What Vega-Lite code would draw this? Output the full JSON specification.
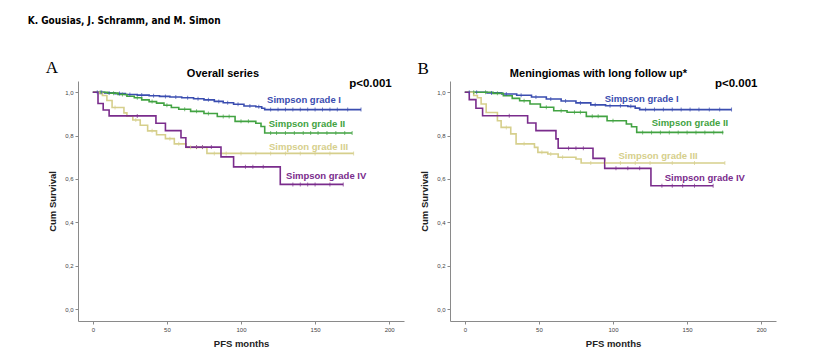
{
  "$schema": "https://vega.github.io/schema/vega-lite/v6.json",
  "background": "white",
  "padding": {"left": 27, "top": 15, "right": 10, "bottom": 5},
  "title": {"text": "K. Gousias, J. Schramm, and M. Simon", "anchor": "start", "font": "DejaVu Sans Condensed, Liberation Sans Narrow, Liberation Sans", "fontSize": 10, "fontWeight": "bold", "color": "#000", "dx": -18, "offset": 33},
  "datasets": {
    "curves": [
      {"p":"A","g":"Simpson grade I","t":0,"s":1},{"p":"A","g":"Simpson grade I","t":8,"s":0.997},{"p":"A","g":"Simpson grade I","t":15,"s":0.994},{"p":"A","g":"Simpson grade I","t":22,"s":0.99},{"p":"A","g":"Simpson grade I","t":30,"s":0.987},{"p":"A","g":"Simpson grade I","t":38,"s":0.984},{"p":"A","g":"Simpson grade I","t":45,"s":0.981},{"p":"A","g":"Simpson grade I","t":52,"s":0.978},{"p":"A","g":"Simpson grade I","t":60,"s":0.975},{"p":"A","g":"Simpson grade I","t":68,"s":0.97},{"p":"A","g":"Simpson grade I","t":75,"s":0.965},{"p":"A","g":"Simpson grade I","t":82,"s":0.958},{"p":"A","g":"Simpson grade I","t":88,"s":0.952},{"p":"A","g":"Simpson grade I","t":95,"s":0.945},{"p":"A","g":"Simpson grade I","t":102,"s":0.937},{"p":"A","g":"Simpson grade I","t":110,"s":0.933},{"p":"A","g":"Simpson grade I","t":114,"s":0.926},{"p":"A","g":"Simpson grade I","t":116,"s":0.92},{"p":"A","g":"Simpson grade I","t":181,"s":0.92},
      {"p":"A","g":"Simpson grade II","t":0,"s":1},{"p":"A","g":"Simpson grade II","t":10,"s":0.996},{"p":"A","g":"Simpson grade II","t":17,"s":0.99},{"p":"A","g":"Simpson grade II","t":23,"s":0.982},{"p":"A","g":"Simpson grade II","t":28,"s":0.975},{"p":"A","g":"Simpson grade II","t":33,"s":0.965},{"p":"A","g":"Simpson grade II","t":38,"s":0.957},{"p":"A","g":"Simpson grade II","t":43,"s":0.95},{"p":"A","g":"Simpson grade II","t":48,"s":0.94},{"p":"A","g":"Simpson grade II","t":53,"s":0.93},{"p":"A","g":"Simpson grade II","t":58,"s":0.922},{"p":"A","g":"Simpson grade II","t":66,"s":0.912},{"p":"A","g":"Simpson grade II","t":75,"s":0.902},{"p":"A","g":"Simpson grade II","t":84,"s":0.888},{"p":"A","g":"Simpson grade II","t":96,"s":0.866},{"p":"A","g":"Simpson grade II","t":110,"s":0.857},{"p":"A","g":"Simpson grade II","t":113.5,"s":0.842},{"p":"A","g":"Simpson grade II","t":116,"s":0.812},{"p":"A","g":"Simpson grade II","t":175,"s":0.812},
      {"p":"A","g":"Simpson grade III","t":0,"s":1},{"p":"A","g":"Simpson grade III","t":4.5,"s":0.995},{"p":"A","g":"Simpson grade III","t":6.5,"s":0.985},{"p":"A","g":"Simpson grade III","t":9.5,"s":0.962},{"p":"A","g":"Simpson grade III","t":13,"s":0.93},{"p":"A","g":"Simpson grade III","t":21,"s":0.905},{"p":"A","g":"Simpson grade III","t":23,"s":0.89},{"p":"A","g":"Simpson grade III","t":27,"s":0.872},{"p":"A","g":"Simpson grade III","t":32,"s":0.848},{"p":"A","g":"Simpson grade III","t":37,"s":0.822},{"p":"A","g":"Simpson grade III","t":43,"s":0.804},{"p":"A","g":"Simpson grade III","t":49,"s":0.786},{"p":"A","g":"Simpson grade III","t":55,"s":0.762},{"p":"A","g":"Simpson grade III","t":63,"s":0.746},{"p":"A","g":"Simpson grade III","t":77,"s":0.718},{"p":"A","g":"Simpson grade III","t":176,"s":0.718},
      {"p":"A","g":"Simpson grade IV","t":0,"s":1},{"p":"A","g":"Simpson grade IV","t":3.5,"s":0.948},{"p":"A","g":"Simpson grade IV","t":7,"s":0.918},{"p":"A","g":"Simpson grade IV","t":11,"s":0.891},{"p":"A","g":"Simpson grade IV","t":42.6,"s":0.857},{"p":"A","g":"Simpson grade IV","t":49,"s":0.823},{"p":"A","g":"Simpson grade IV","t":59.5,"s":0.79},{"p":"A","g":"Simpson grade IV","t":62.8,"s":0.747},{"p":"A","g":"Simpson grade IV","t":86.5,"s":0.702},{"p":"A","g":"Simpson grade IV","t":95,"s":0.656},{"p":"A","g":"Simpson grade IV","t":126.5,"s":0.575},{"p":"A","g":"Simpson grade IV","t":169,"s":0.575},
      {"p":"B","g":"Simpson grade I","t":0,"s":1},{"p":"B","g":"Simpson grade I","t":15,"s":0.997},{"p":"B","g":"Simpson grade I","t":25,"s":0.992},{"p":"B","g":"Simpson grade I","t":35,"s":0.986},{"p":"B","g":"Simpson grade I","t":45,"s":0.978},{"p":"B","g":"Simpson grade I","t":55,"s":0.969},{"p":"B","g":"Simpson grade I","t":65,"s":0.96},{"p":"B","g":"Simpson grade I","t":75,"s":0.951},{"p":"B","g":"Simpson grade I","t":85,"s":0.942},{"p":"B","g":"Simpson grade I","t":95,"s":0.938},{"p":"B","g":"Simpson grade I","t":110,"s":0.935},{"p":"B","g":"Simpson grade I","t":115,"s":0.927},{"p":"B","g":"Simpson grade I","t":118,"s":0.92},{"p":"B","g":"Simpson grade I","t":180,"s":0.92},
      {"p":"B","g":"Simpson grade II","t":0,"s":1},{"p":"B","g":"Simpson grade II","t":19,"s":0.995},{"p":"B","g":"Simpson grade II","t":26,"s":0.984},{"p":"B","g":"Simpson grade II","t":32,"s":0.972},{"p":"B","g":"Simpson grade II","t":37,"s":0.961},{"p":"B","g":"Simpson grade II","t":44,"s":0.946},{"p":"B","g":"Simpson grade II","t":51,"s":0.931},{"p":"B","g":"Simpson grade II","t":60,"s":0.915},{"p":"B","g":"Simpson grade II","t":69,"s":0.908},{"p":"B","g":"Simpson grade II","t":82,"s":0.889},{"p":"B","g":"Simpson grade II","t":96,"s":0.869},{"p":"B","g":"Simpson grade II","t":109,"s":0.854},{"p":"B","g":"Simpson grade II","t":112.5,"s":0.841},{"p":"B","g":"Simpson grade II","t":116,"s":0.815},{"p":"B","g":"Simpson grade II","t":174.5,"s":0.815},
      {"p":"B","g":"Simpson grade III","t":0,"s":1},{"p":"B","g":"Simpson grade III","t":6,"s":0.985},{"p":"B","g":"Simpson grade III","t":8.5,"s":0.975},{"p":"B","g":"Simpson grade III","t":11,"s":0.946},{"p":"B","g":"Simpson grade III","t":14.4,"s":0.907},{"p":"B","g":"Simpson grade III","t":22,"s":0.869},{"p":"B","g":"Simpson grade III","t":24.5,"s":0.838},{"p":"B","g":"Simpson grade III","t":31,"s":0.808},{"p":"B","g":"Simpson grade III","t":34.6,"s":0.762},{"p":"B","g":"Simpson grade III","t":47,"s":0.746},{"p":"B","g":"Simpson grade III","t":49.3,"s":0.723},{"p":"B","g":"Simpson grade III","t":56,"s":0.715},{"p":"B","g":"Simpson grade III","t":63,"s":0.7},{"p":"B","g":"Simpson grade III","t":75,"s":0.692},{"p":"B","g":"Simpson grade III","t":78.5,"s":0.674},{"p":"B","g":"Simpson grade III","t":175.5,"s":0.674},
      {"p":"B","g":"Simpson grade IV","t":0,"s":1},{"p":"B","g":"Simpson grade IV","t":3,"s":0.966},{"p":"B","g":"Simpson grade IV","t":7.5,"s":0.926},{"p":"B","g":"Simpson grade IV","t":12,"s":0.892},{"p":"B","g":"Simpson grade IV","t":42.4,"s":0.858},{"p":"B","g":"Simpson grade IV","t":48,"s":0.823},{"p":"B","g":"Simpson grade IV","t":61.5,"s":0.785},{"p":"B","g":"Simpson grade IV","t":63,"s":0.742},{"p":"B","g":"Simpson grade IV","t":86.5,"s":0.695},{"p":"B","g":"Simpson grade IV","t":94.4,"s":0.649},{"p":"B","g":"Simpson grade IV","t":125.6,"s":0.569},{"p":"B","g":"Simpson grade IV","t":167.6,"s":0.569}
    ],
    "censors": [
      {"p":"A","g":"Simpson grade I","t":3,"s":1},{"p":"A","g":"Simpson grade I","t":6,"s":1},{"p":"A","g":"Simpson grade I","t":11,"s":0.997},{"p":"A","g":"Simpson grade I","t":18,"s":0.994},{"p":"A","g":"Simpson grade I","t":25,"s":0.99},{"p":"A","g":"Simpson grade I","t":33,"s":0.987},{"p":"A","g":"Simpson grade I","t":41,"s":0.984},{"p":"A","g":"Simpson grade I","t":49,"s":0.981},{"p":"A","g":"Simpson grade I","t":56,"s":0.978},{"p":"A","g":"Simpson grade I","t":64,"s":0.975},{"p":"A","g":"Simpson grade I","t":71,"s":0.97},{"p":"A","g":"Simpson grade I","t":78,"s":0.965},{"p":"A","g":"Simpson grade I","t":85,"s":0.958},{"p":"A","g":"Simpson grade I","t":91,"s":0.952},{"p":"A","g":"Simpson grade I","t":98,"s":0.945},{"p":"A","g":"Simpson grade I","t":106,"s":0.937},{"p":"A","g":"Simpson grade I","t":112,"s":0.933},{"p":"A","g":"Simpson grade I","t":120,"s":0.92},{"p":"A","g":"Simpson grade I","t":125,"s":0.92},{"p":"A","g":"Simpson grade I","t":130,"s":0.92},{"p":"A","g":"Simpson grade I","t":135,"s":0.92},{"p":"A","g":"Simpson grade I","t":140,"s":0.92},{"p":"A","g":"Simpson grade I","t":145,"s":0.92},{"p":"A","g":"Simpson grade I","t":150,"s":0.92},{"p":"A","g":"Simpson grade I","t":155,"s":0.92},{"p":"A","g":"Simpson grade I","t":160,"s":0.92},{"p":"A","g":"Simpson grade I","t":165,"s":0.92},{"p":"A","g":"Simpson grade I","t":172,"s":0.92},{"p":"A","g":"Simpson grade I","t":181,"s":0.92},
      {"p":"A","g":"Simpson grade II","t":5,"s":1},{"p":"A","g":"Simpson grade II","t":14,"s":0.996},{"p":"A","g":"Simpson grade II","t":20,"s":0.99},{"p":"A","g":"Simpson grade II","t":30,"s":0.975},{"p":"A","g":"Simpson grade II","t":40,"s":0.957},{"p":"A","g":"Simpson grade II","t":50,"s":0.94},{"p":"A","g":"Simpson grade II","t":62,"s":0.922},{"p":"A","g":"Simpson grade II","t":70,"s":0.912},{"p":"A","g":"Simpson grade II","t":78,"s":0.902},{"p":"A","g":"Simpson grade II","t":88,"s":0.888},{"p":"A","g":"Simpson grade II","t":92,"s":0.888},{"p":"A","g":"Simpson grade II","t":100,"s":0.866},{"p":"A","g":"Simpson grade II","t":105,"s":0.866},{"p":"A","g":"Simpson grade II","t":120,"s":0.812},{"p":"A","g":"Simpson grade II","t":124,"s":0.812},{"p":"A","g":"Simpson grade II","t":130,"s":0.812},{"p":"A","g":"Simpson grade II","t":136,"s":0.812},{"p":"A","g":"Simpson grade II","t":142,"s":0.812},{"p":"A","g":"Simpson grade II","t":147,"s":0.812},{"p":"A","g":"Simpson grade II","t":152,"s":0.812},{"p":"A","g":"Simpson grade II","t":158,"s":0.812},{"p":"A","g":"Simpson grade II","t":164,"s":0.812},{"p":"A","g":"Simpson grade II","t":170,"s":0.812},{"p":"A","g":"Simpson grade II","t":175,"s":0.812},
      {"p":"A","g":"Simpson grade III","t":15,"s":0.93},{"p":"A","g":"Simpson grade III","t":29,"s":0.872},{"p":"A","g":"Simpson grade III","t":40,"s":0.822},{"p":"A","g":"Simpson grade III","t":52,"s":0.786},{"p":"A","g":"Simpson grade III","t":58,"s":0.762},{"p":"A","g":"Simpson grade III","t":66,"s":0.746},{"p":"A","g":"Simpson grade III","t":70,"s":0.746},{"p":"A","g":"Simpson grade III","t":74,"s":0.746},{"p":"A","g":"Simpson grade III","t":82,"s":0.718},{"p":"A","g":"Simpson grade III","t":90,"s":0.718},{"p":"A","g":"Simpson grade III","t":100,"s":0.718},{"p":"A","g":"Simpson grade III","t":110,"s":0.718},{"p":"A","g":"Simpson grade III","t":120,"s":0.718},{"p":"A","g":"Simpson grade III","t":130,"s":0.718},{"p":"A","g":"Simpson grade III","t":140,"s":0.718},{"p":"A","g":"Simpson grade III","t":150,"s":0.718},{"p":"A","g":"Simpson grade III","t":160,"s":0.718},{"p":"A","g":"Simpson grade III","t":176,"s":0.718},
      {"p":"A","g":"Simpson grade IV","t":30,"s":0.891},{"p":"A","g":"Simpson grade IV","t":70,"s":0.747},{"p":"A","g":"Simpson grade IV","t":74,"s":0.747},{"p":"A","g":"Simpson grade IV","t":80,"s":0.747},{"p":"A","g":"Simpson grade IV","t":103,"s":0.656},{"p":"A","g":"Simpson grade IV","t":108,"s":0.656},{"p":"A","g":"Simpson grade IV","t":115,"s":0.656},{"p":"A","g":"Simpson grade IV","t":135,"s":0.575},{"p":"A","g":"Simpson grade IV","t":140,"s":0.575},{"p":"A","g":"Simpson grade IV","t":145,"s":0.575},{"p":"A","g":"Simpson grade IV","t":150,"s":0.575},{"p":"A","g":"Simpson grade IV","t":160,"s":0.575},{"p":"A","g":"Simpson grade IV","t":169,"s":0.575},
      {"p":"B","g":"Simpson grade I","t":3,"s":1},{"p":"B","g":"Simpson grade I","t":8,"s":1},{"p":"B","g":"Simpson grade I","t":18,"s":0.997},{"p":"B","g":"Simpson grade I","t":28,"s":0.992},{"p":"B","g":"Simpson grade I","t":38,"s":0.986},{"p":"B","g":"Simpson grade I","t":48,"s":0.978},{"p":"B","g":"Simpson grade I","t":58,"s":0.969},{"p":"B","g":"Simpson grade I","t":68,"s":0.96},{"p":"B","g":"Simpson grade I","t":78,"s":0.951},{"p":"B","g":"Simpson grade I","t":88,"s":0.942},{"p":"B","g":"Simpson grade I","t":98,"s":0.938},{"p":"B","g":"Simpson grade I","t":105,"s":0.938},{"p":"B","g":"Simpson grade I","t":112,"s":0.935},{"p":"B","g":"Simpson grade I","t":122,"s":0.92},{"p":"B","g":"Simpson grade I","t":128,"s":0.92},{"p":"B","g":"Simpson grade I","t":134,"s":0.92},{"p":"B","g":"Simpson grade I","t":140,"s":0.92},{"p":"B","g":"Simpson grade I","t":146,"s":0.92},{"p":"B","g":"Simpson grade I","t":152,"s":0.92},{"p":"B","g":"Simpson grade I","t":158,"s":0.92},{"p":"B","g":"Simpson grade I","t":165,"s":0.92},{"p":"B","g":"Simpson grade I","t":172,"s":0.92},{"p":"B","g":"Simpson grade I","t":180,"s":0.92},
      {"p":"B","g":"Simpson grade II","t":6,"s":1},{"p":"B","g":"Simpson grade II","t":14,"s":1},{"p":"B","g":"Simpson grade II","t":22,"s":0.995},{"p":"B","g":"Simpson grade II","t":40,"s":0.961},{"p":"B","g":"Simpson grade II","t":55,"s":0.931},{"p":"B","g":"Simpson grade II","t":65,"s":0.915},{"p":"B","g":"Simpson grade II","t":74,"s":0.908},{"p":"B","g":"Simpson grade II","t":78,"s":0.908},{"p":"B","g":"Simpson grade II","t":86,"s":0.889},{"p":"B","g":"Simpson grade II","t":90,"s":0.889},{"p":"B","g":"Simpson grade II","t":100,"s":0.869},{"p":"B","g":"Simpson grade II","t":120,"s":0.815},{"p":"B","g":"Simpson grade II","t":126,"s":0.815},{"p":"B","g":"Simpson grade II","t":132,"s":0.815},{"p":"B","g":"Simpson grade II","t":138,"s":0.815},{"p":"B","g":"Simpson grade II","t":144,"s":0.815},{"p":"B","g":"Simpson grade II","t":150,"s":0.815},{"p":"B","g":"Simpson grade II","t":156,"s":0.815},{"p":"B","g":"Simpson grade II","t":162,"s":0.815},{"p":"B","g":"Simpson grade II","t":168,"s":0.815},{"p":"B","g":"Simpson grade II","t":174,"s":0.815},
      {"p":"B","g":"Simpson grade III","t":28,"s":0.838},{"p":"B","g":"Simpson grade III","t":40,"s":0.762},{"p":"B","g":"Simpson grade III","t":52,"s":0.723},{"p":"B","g":"Simpson grade III","t":58,"s":0.715},{"p":"B","g":"Simpson grade III","t":66,"s":0.7},{"p":"B","g":"Simpson grade III","t":85,"s":0.674},{"p":"B","g":"Simpson grade III","t":95,"s":0.674},{"p":"B","g":"Simpson grade III","t":105,"s":0.674},{"p":"B","g":"Simpson grade III","t":115,"s":0.674},{"p":"B","g":"Simpson grade III","t":125,"s":0.674},{"p":"B","g":"Simpson grade III","t":140,"s":0.674},{"p":"B","g":"Simpson grade III","t":155,"s":0.674},{"p":"B","g":"Simpson grade III","t":175.5,"s":0.674},
      {"p":"B","g":"Simpson grade IV","t":30,"s":0.892},{"p":"B","g":"Simpson grade IV","t":70,"s":0.742},{"p":"B","g":"Simpson grade IV","t":75,"s":0.742},{"p":"B","g":"Simpson grade IV","t":80,"s":0.742},{"p":"B","g":"Simpson grade IV","t":102,"s":0.649},{"p":"B","g":"Simpson grade IV","t":110,"s":0.649},{"p":"B","g":"Simpson grade IV","t":118,"s":0.649},{"p":"B","g":"Simpson grade IV","t":133,"s":0.569},{"p":"B","g":"Simpson grade IV","t":140,"s":0.569},{"p":"B","g":"Simpson grade IV","t":147,"s":0.569},{"p":"B","g":"Simpson grade IV","t":155,"s":0.569},{"p":"B","g":"Simpson grade IV","t":167.6,"s":0.569}
    ],
    "labels": [
      {"p":"A","k":"g","g":"Simpson grade I","label":"Simpson grade I","t":117.6,"s":0.966},
      {"p":"A","k":"g","g":"Simpson grade II","label":"Simpson grade II","t":118.7,"s":0.854},
      {"p":"A","k":"g","g":"Simpson grade III","label":"Simpson grade III","t":118.9,"s":0.748},
      {"p":"A","k":"g","g":"Simpson grade IV","label":"Simpson grade IV","t":130.4,"s":0.612},
      {"p":"A","k":"title","label":"Overall series","t":87.8,"s":1.084},
      {"p":"A","k":"pv","label":"p<0.001","t":173,"s":1.038},
      {"p":"A","k":"letter","label":"A","t":-31.8,"s":1.112},
      {"p":"B","k":"g","g":"Simpson grade I","label":"Simpson grade I","t":94.4,"s":0.969},
      {"p":"B","k":"g","g":"Simpson grade II","label":"Simpson grade II","t":126.1,"s":0.858},
      {"p":"B","k":"g","g":"Simpson grade III","label":"Simpson grade III","t":103.7,"s":0.707},
      {"p":"B","k":"g","g":"Simpson grade IV","label":"Simpson grade IV","t":134.9,"s":0.605},
      {"p":"B","k":"title","label":"Meningiomas with long follow up*","t":90.2,"s":1.084},
      {"p":"B","k":"pv","label":"p<0.001","t":168.8,"s":1.038},
      {"p":"B","k":"letter","label":"B","t":-31.9,"s":1.107}
    ]
  },
  "hconcat": [
    {
      "width": 326, "height": 240,
      "layer": [
        {"data": {"name": "curves"}, "transform": [{"filter": "datum.p == 'A'"}],
         "mark": {"type": "line", "interpolate": "step-after", "strokeWidth": 1.6},
         "encoding": {
           "x": {"field": "t", "type": "quantitative", "scale": {"domain": [-10, 210], "nice": false, "zero": false}, "axis": {"title": "PFS months", "values": [0, 50, 100, 150, 200]}},
           "y": {"field": "s", "type": "quantitative", "scale": {"domain": [-0.055, 1.052], "nice": false, "zero": false}, "axis": {"title": "Cum Survival", "values": [0, 0.2, 0.4, 0.6, 0.8, 1], "labelExpr": "replace(format(datum.value, '.1f'), '.', ',')"}},
           "color": {"field": "g", "type": "nominal", "scale": {"domain": ["Simpson grade I", "Simpson grade II", "Simpson grade III", "Simpson grade IV"], "range": ["#3a4db0", "#42a342", "#d6cf8c", "#7a2c8c"]}, "legend": null}
         }},
        {"data": {"name": "censors"}, "transform": [{"filter": "datum.p == 'A'"}],
         "mark": {"type": "tick", "orient": "vertical", "size": 4, "thickness": 1},
         "encoding": {"x": {"field": "t", "type": "quantitative"}, "y": {"field": "s", "type": "quantitative"}, "color": {"field": "g", "type": "nominal", "legend": null}}},
        {"data": {"name": "labels"}, "transform": [{"filter": "datum.p == 'A' && datum.k == 'g'"}],
         "mark": {"type": "text", "align": "left", "baseline": "middle", "font": "Liberation Sans", "fontWeight": "bold", "fontSize": 9.5},
         "encoding": {"x": {"field": "t", "type": "quantitative"}, "y": {"field": "s", "type": "quantitative"}, "text": {"field": "label"}, "color": {"field": "g", "type": "nominal", "legend": null}}},
        {"data": {"name": "labels"}, "transform": [{"filter": "datum.p == 'A' && datum.k == 'title'"}],
         "mark": {"type": "text", "align": "center", "baseline": "middle", "font": "Liberation Sans", "fontWeight": "bold", "fontSize": 11, "color": "#000"},
         "encoding": {"x": {"field": "t", "type": "quantitative"}, "y": {"field": "s", "type": "quantitative"}, "text": {"field": "label"}}},
        {"data": {"name": "labels"}, "transform": [{"filter": "datum.p == 'A' && datum.k == 'pv'"}],
         "mark": {"type": "text", "align": "left", "baseline": "middle", "font": "Liberation Sans", "fontWeight": "bold", "fontSize": 11.5, "color": "#000"},
         "encoding": {"x": {"field": "t", "type": "quantitative"}, "y": {"field": "s", "type": "quantitative"}, "text": {"field": "label"}}},
        {"data": {"name": "labels"}, "transform": [{"filter": "datum.p == 'A' && datum.k == 'letter'"}],
         "mark": {"type": "text", "align": "left", "baseline": "middle", "font": "Liberation Serif", "fontSize": 17, "color": "#000"},
         "encoding": {"x": {"field": "t", "type": "quantitative"}, "y": {"field": "s", "type": "quantitative"}, "text": {"field": "label"}}}
      ]
    },
    {
      "width": 326, "height": 240,
      "layer": [
        {"data": {"name": "curves"}, "transform": [{"filter": "datum.p == 'B'"}],
         "mark": {"type": "line", "interpolate": "step-after", "strokeWidth": 1.6},
         "encoding": {
           "x": {"field": "t", "type": "quantitative", "scale": {"domain": [-10, 210], "nice": false, "zero": false}, "axis": {"title": "PFS months", "values": [0, 50, 100, 150, 200]}},
           "y": {"field": "s", "type": "quantitative", "scale": {"domain": [-0.055, 1.052], "nice": false, "zero": false}, "axis": {"title": "Cum Survival", "values": [0, 0.2, 0.4, 0.6, 0.8, 1], "labelExpr": "replace(format(datum.value, '.1f'), '.', ',')"}},
           "color": {"field": "g", "type": "nominal", "scale": {"domain": ["Simpson grade I", "Simpson grade II", "Simpson grade III", "Simpson grade IV"], "range": ["#3a4db0", "#42a342", "#d6cf8c", "#7a2c8c"]}, "legend": null}
         }},
        {"data": {"name": "censors"}, "transform": [{"filter": "datum.p == 'B'"}],
         "mark": {"type": "tick", "orient": "vertical", "size": 4, "thickness": 1},
         "encoding": {"x": {"field": "t", "type": "quantitative"}, "y": {"field": "s", "type": "quantitative"}, "color": {"field": "g", "type": "nominal", "legend": null}}},
        {"data": {"name": "labels"}, "transform": [{"filter": "datum.p == 'B' && datum.k == 'g'"}],
         "mark": {"type": "text", "align": "left", "baseline": "middle", "font": "Liberation Sans", "fontWeight": "bold", "fontSize": 9.5},
         "encoding": {"x": {"field": "t", "type": "quantitative"}, "y": {"field": "s", "type": "quantitative"}, "text": {"field": "label"}, "color": {"field": "g", "type": "nominal", "legend": null}}},
        {"data": {"name": "labels"}, "transform": [{"filter": "datum.p == 'B' && datum.k == 'title'"}],
         "mark": {"type": "text", "align": "center", "baseline": "middle", "font": "Liberation Sans", "fontWeight": "bold", "fontSize": 11, "color": "#000"},
         "encoding": {"x": {"field": "t", "type": "quantitative"}, "y": {"field": "s", "type": "quantitative"}, "text": {"field": "label"}}},
        {"data": {"name": "labels"}, "transform": [{"filter": "datum.p == 'B' && datum.k == 'pv'"}],
         "mark": {"type": "text", "align": "left", "baseline": "middle", "font": "Liberation Sans", "fontWeight": "bold", "fontSize": 11.5, "color": "#000"},
         "encoding": {"x": {"field": "t", "type": "quantitative"}, "y": {"field": "s", "type": "quantitative"}, "text": {"field": "label"}}},
        {"data": {"name": "labels"}, "transform": [{"filter": "datum.p == 'B' && datum.k == 'letter'"}],
         "mark": {"type": "text", "align": "left", "baseline": "middle", "font": "Liberation Serif", "fontSize": 17, "color": "#000"},
         "encoding": {"x": {"field": "t", "type": "quantitative"}, "y": {"field": "s", "type": "quantitative"}, "text": {"field": "label"}}}
      ]
    }
  ],
  "bounds": "flush",
  "spacing": 46,
  "config": {
    "view": {"stroke": null},
    "font": "Liberation Sans",
    "axis": {"grid": false, "domainColor": "#8a8a8a", "tickColor": "#8a8a8a", "tickSize": 3, "labelFontSize": 6, "labelColor": "#444", "labelFont": "Liberation Sans", "titleFont": "Liberation Sans", "titleFontSize": 9.5, "titleFontWeight": "bold", "titleColor": "#222"},
    "axisX": {"titlePadding": 6, "labelPadding": 2},
    "axisY": {"titlePadding": 7, "labelPadding": 2}
  }
}
